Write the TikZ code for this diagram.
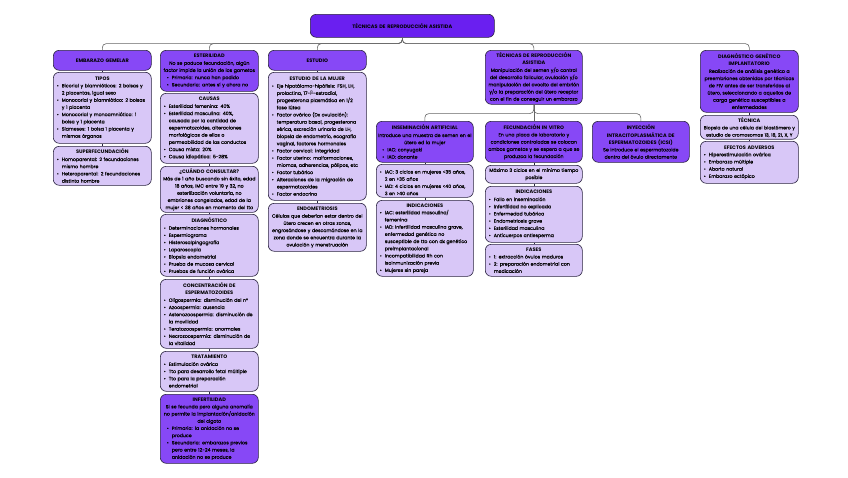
\documentclass[tikz,border=0pt]{standalone}
\usepackage{fontspec}
\setmainfont{Poppins}[UprightFeatures={FakeBold=0.25}]
\newfontfamily\dvfont{DejaVu Sans}
\definecolor{titc}{HTML}{6A1FF0}
\definecolor{hdc}{HTML}{8748F6}
\definecolor{lic}{HTML}{D8C7F7}
\definecolor{bdc}{HTML}{2A2340}
\newcommand\fb{\fontsize{4.7pt}{7.2pt}\selectfont}
\newcommand\fbs{\fontsize{4.6pt}{7.2pt}\selectfont}
\newcommand\fh{\fontsize{5pt}{7.2pt}\selectfont\bfseries}
\newcommand\bi[1]{\par\noindent\hangindent=5pt\hangafter=1\makebox[5pt][l]{\textbullet}#1\par}
\newcommand\ttl[1]{{\centering\fh #1\par}}
\tikzset{
  box/.style={draw=bdc, line width=0.6pt, rounded corners=6pt, anchor=north west,
    inner xsep=1.5pt, inner ysep=2pt, font=\fb, execute at end node={\par}},
  lbox/.style={box, fill=lic, align=left, text width=95pt, execute at begin node={\leftskip=2pt}},
  lboxc/.style={box, fill=lic, align=center, text width=95pt},
  dbox/.style={box, fill=hdc, align=center, text width=95pt},
  conn/.style={draw=black!60, line width=0.6pt, rounded corners=4pt},
  sconn/.style={draw=bdc, line width=0.6pt}
}
\begin{document}
\begin{tikzpicture}[x=1pt,y=-1pt]
\fill[white] (0,0) rectangle (848,477);
\useasboundingbox (0,0) rectangle (848,477);

% title
\node[box, fill=titc, align=center, text width=181pt, minimum width=184pt, minimum height=23pt, font=\fh] (tit) at (310,14) {TÉCNICAS DE REPRODUCCIÓN ASISTIDA};

% ---------- column 1
\node[dbox, minimum height=20pt, font=\fh] (gem) at (53,50) {EMBARAZO GEMELAR};
\node[lbox, minimum height=71pt] (tip) at (53,72) {\ttl{TIPOS}%
\bi{Bicorial y biamnióticos: 2 bolsas y\newline 2 placentas, igual sexo}%
\bi{Monocorial y biamniótico: 2 bolsas\newline y 1 placenta}%
\bi{Monocorial y monoamniótico: 1\newline bolsa y 1 placenta}%
\bi{Siameses: 1 bolsa 1 placenta y\newline mismos órganos}};
\node[lbox, minimum height=39pt] (sup) at (53,146) {\ttl{SUPERFECUNDACIÓN}%
\bi{Homoparental: 2 fecundaciones\newline mismo hombre}%
\bi{Heteroparental: 2 fecundaciones\newline distinto hombre}};

% ---------- column 2
\node[dbox, minimum height=41pt] (est) at (160,50) {\ttl{ESTERILIDAD}%
No se poduce fecundación, algún\\ factor impide la unión de los gametos\par
{\raggedright\leftskip=5pt
\bi{Primaria: nunca han podido}%
\bi{Secundaria: antes sí y ahora no}\par}};
\node[lbox, minimum height=70pt] (cau) at (160,93) {\ttl{CAUSAS}%
\bi{Esterilidad femenina: 40\%}%
\bi{Esterilidad masculina: 40\%,\newline causada por la cantidad de\newline espermatozoides, alteraciones\newline morfológicas de ellos o\newline permeabilidad de los conductos}%
\bi{Causa mixta: 20\%}%
\bi{Causa idiopática: 5-28\%}};
\node[lboxc, minimum height=46pt] (cua) at (160,166) {\ttl{¿CUÁNDO CONSULTAR?}%
Más de 1 año buscando sin éxito, edad\\ 18 años, IMC entre 19 y 32, no\\ esterilización voluntaria, no\\ embriones congelados, edad de la\\ mujer < 38 años en momento del tto};
\node[lbox, minimum height=62pt] (dia) at (160,214) {\ttl{DIAGNÓSTICO}%
\bi{Determinaciones hormonales}%
\bi{Espermiograma}%
\bi{Histerosalpingografía}%
\bi{Laparoscopia}%
\bi{Biopsia endometrial}%
\bi{Prueba de mucosa cervical}%
\bi{Pruebas de función ovárica}};
\node[lbox, minimum height=69pt] (con) at (160,279) {\ttl{CONCENTRACIÓN DE\\ ESPERMATOZOIDES}%
\bi{Oligospermia: disminución del n°}%
\bi{Azoospermia: ausencia}%
\bi{Astenozoospermia: disminución de\newline la movilidad}%
\bi{Teratozoospermia: anormales}%
\bi{Necrozoospermia: disminución de\newline la vitalidad}};
\node[lbox, minimum height=40pt] (tra) at (160,351) {\ttl{TRATAMIENTO}%
\bi{Estimulación ovárica}%
\bi{Tto para desarrollo fetal múltiple}%
\bi{Tto para la preparación\newline endometrial}};
\node[dbox, minimum height=69pt] (inf) at (160,394) {\ttl{INFERTILIDAD}%
Si se fecunda pero alguna anomalía\\ no permite la implantación/anidación\\ del cigoto\par
{\raggedright\leftskip=5pt
\bi{Primaria: la anidación no se\newline produce}%
\bi{Secundaria: embarazos previos\newline pero entre 12-24 meses, la\newline anidación no se produce}\par}};

% ---------- column 3
\node[dbox, minimum height=20pt, font=\fh] (estu) at (268,50) {ESTUDIO};
\node[lbox, minimum height=128pt] (muj) at (268,72) {\ttl{ESTUDIO DE LA MUJER}%
\bi{Eje hipotálamo-hipófisis: FSH, LH,\newline prolactina, 17-{\dvfont β}-estradiol,\newline progesterona plasmática en 1/2\newline fase lútea}%
\bi{Factor ovárico (Dx ovulación):\newline temperatura basal, progesterona\newline sérica, excreción urinaria de LH,\newline biopsia de endometrio, ecografía\newline vaginal, factores hormonales}%
\bi{Factor cervical: integridad}%
\bi{Factor uterino: malformaciones,\newline miomas, adherencias, pólipos, etc}%
\bi{Factor tubárico}%
\bi{Alteraciones de la migración de\newline espermatozoides}%
\bi{Factor endocrino}};
\node[lboxc, minimum height=48pt] (endo) at (268,203) {\ttl{ENDOMETRIOSIS}%
Células que deberían estar dentro del\\ útero crecen en otras zonas,\\ engrosándose y descamándose en la\\ zona donde se encuentra durante la\\ ovulación y menstruación};

% ---------- column 4
\node[dbox, minimum height=54pt, text width=94pt] (tec) at (485,50) {\ttl{TÉCNICAS DE REPRODUCCIÓN\\ ASISTIDA}%
Manipulación del semen y/o control\\ del desarrollo folicular, ovulación y/o\\ manipulación del ovocito del embrión\\ y/o la preparación del útero receptor\\ con el fin de conseguir un embarazo};
\node[dbox, minimum height=41pt, inner xsep=1pt, text width=95pt] (ins) at (376,121) {\ttl{INSEMINACIÓN ARTIFICIAL}%
Introduce una muestra de semen en el\\ útero ed la mujer\par
{\raggedright\leftskip=5pt
\bi{IAC: conyugakl}%
\bi{IAD: donante}\par}};
\node[lbox, minimum height=33pt, text width=94pt] (iac) at (376,164) {%
\bi{IAC: 3 ciclos en mujeres <35 años,\newline 2 en >35 años}%
\bi{IAD: 4 ciclos en mujeres <40 años,\newline 3 en >40 años}};
\node[lbox, minimum height=76pt, text width=94pt] (ind1) at (376,200) {\ttl{INDICACIONES}%
\bi{IAC: esterilidad masculina/\newline femenina}%
\bi{IAD: infertilidad masculina grave,\newline enfermedad genética no\newline susceptible de tto con dx genético\newline preimplantacional}%
\bi{Incompatibilidad Rh con\newline isoinmunización previa}%
\bi{Mujeres sin pareja}};
\node[dbox, minimum height=41pt, text width=94pt] (fiv) at (485,121) {\ttl{FECUNDACIÓN IN VITRO}%
En una placa de laboratorio y\\ condiciones controladas se colocan\\ ambos gametos y se espera a que se\\ produzca la fecundación};
\node[lboxc, minimum height=18pt, text width=94pt] (max) at (485,165) {Máximo 3 ciclos en el mínimo tiempo\\ posible};
\node[lbox, minimum height=56pt, text width=94pt] (ind2) at (485,186) {\ttl{INDICACIONES}%
\bi{Fallo en inseminación}%
\bi{Infertilidad no explicada}%
\bi{Enfermedad tubárica}%
\bi{Endometriosis grave}%
\bi{Esterilidad masculina}%
\bi{Anticuerpos antiesperma}};
\node[lbox, minimum height=32pt, text width=94pt] (fas) at (485,244) {\ttl{FASES}%
\bi{1: extracción óvulos maduros}%
\bi{2: preparación endometrial con\newline medicación}};
\node[dbox, minimum height=41pt, text width=94pt] (icsi) at (592,121) {\ttl{INYECCIÓN\\ INTRACITOPLASMÁTICA DE\\ ESPERMATOZOIDES (ICSI)}%
Se introduce el espermatozoide\\ dentro del óvulo directamente};

% ---------- column 7
\node[dbox, minimum height=62pt] (dgi) at (700,50) {\ttl{DIAGNÓSTICO GENÉTICO\\ IMPLANTATORIO}%
Realización de análisis genético a\\ preembriones obtenidos por técnicas\\ de FIV antes de ser transferidos al\\ útero, seleccionando a aquellos de\\ carga genética susceptibles a\\ enfermedades};
\node[lboxc, minimum height=23pt, inner xsep=0pt, text width=98pt, font=\fbs] (tecn) at (700,115) {\ttl{TÉCNICA}%
Biopsia de una célula del blastómero y\\ estudio de cromosomas 13, 18, 21, X, Y};
\node[lbox, minimum height=42pt] (efe) at (700,141) {\ttl{EFECTOS ADVERSOS}%
\bi{Hiperestimulación ovárica}%
\bi{Embarazo múltiple}%
\bi{Aborto natural}%
\bi{Embarazo ectópico}};

% ---------- connectors
\foreach \n in {gem,est,estu,tec,dgi}
  \draw[conn] (tit.south) -- ++(0,6) -| (\n.north);
\foreach \n in {ins,fiv,icsi}
  \draw[conn] (tec.south) -- ++(0,9) -| (\n.north);
\foreach \a/\b in {gem/tip,tip/sup,est/cau,cau/cua,cua/dia,dia/con,con/tra,tra/inf,
  estu/muj,muj/endo,ins/iac,iac/ind1,fiv/max,max/ind2,ind2/fas,dgi/tecn,tecn/efe}
  \draw[sconn] (\a.south) -- (\b.north);
\end{tikzpicture}
\end{document}
